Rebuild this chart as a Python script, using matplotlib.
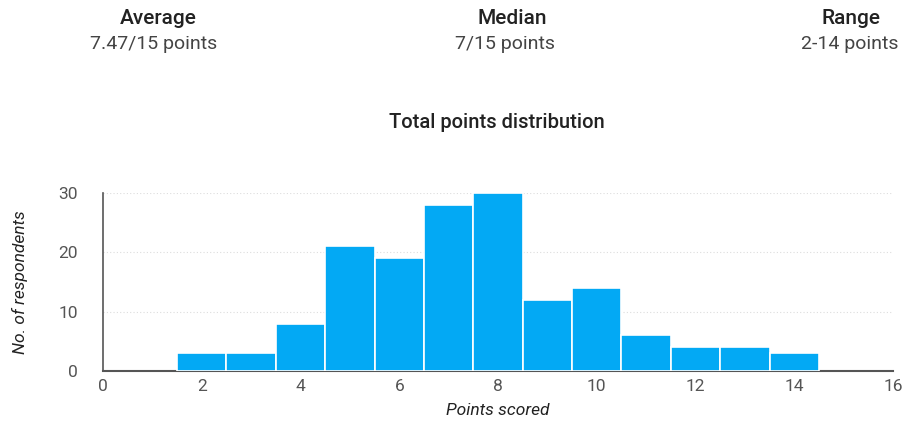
import numpy as np
import matplotlib.pyplot as plt

plt.rcParams['font.family'] = ['Roboto', 'DejaVu Sans']

# score -> number of respondents
points = [2, 3, 4, 5, 6, 7, 8, 9, 10, 11, 12, 13, 14]
respondents = [3, 3, 8, 21, 19, 28, 30, 12, 14, 6, 4, 4, 3]

stat_names = ['Average', 'Median', 'Range']
stat_values = ['7.47/15 points', '7/15 points', '2-14 points']
name_x = [158, 512, 851]
value_x = [154, 505, 850]

fig = plt.figure(figsize=(9.05, 4.23), dpi=100)
ax = fig.add_axes([103/905, 1 - 371/423, 790/905, 178/423])

ax.bar(points, respondents, width=1.0, color='#03a9f4', edgecolor='white', linewidth=1.2, zorder=3)

ax.set_xlim(0, 16)
ax.set_ylim(0, 30)
ax.set_xticks(np.arange(0, 17, 2))
ax.set_yticks([0, 10, 20, 30])
ax.yaxis.grid(True, linestyle=(0, (1, 2)), color='#dddddd', linewidth=0.8, zorder=0)
ax.set_axisbelow(True)

for side in ['top', 'right']:
    ax.spines[side].set_visible(False)
ax.spines['left'].set_color('#555555')
ax.spines['bottom'].set_color('#555555')
ax.spines['left'].set_linewidth(1.2)
ax.spines['bottom'].set_linewidth(1.5)
ax.tick_params(length=0, labelsize=12.5, colors='#555555', pad=6)
ax.tick_params(axis='y', pad=18)

ax.set_xlabel('Points scored', fontsize=12.5, style='italic', color='#222222', labelpad=6)
ax.set_ylabel('No. of respondents', fontsize=12.5, style='italic', color='#222222', labelpad=22)

fig.text(497/905, 1 - 122/423, 'Total points distribution', ha='center', va='center',
         fontsize=14.5, fontweight='medium', color='#222222')

for name, val, xn, xv in zip(stat_names, stat_values, name_x, value_x):
    fig.text(xn/905, 1 - 18/423, name, ha='center', va='center', fontsize=15,
             fontweight='medium', color='#222222')
    fig.text(xv/905, 1 - 44/423, val, ha='center', va='center', fontsize=14, color='#444444')

fig.savefig('out.png', dpi=100)
